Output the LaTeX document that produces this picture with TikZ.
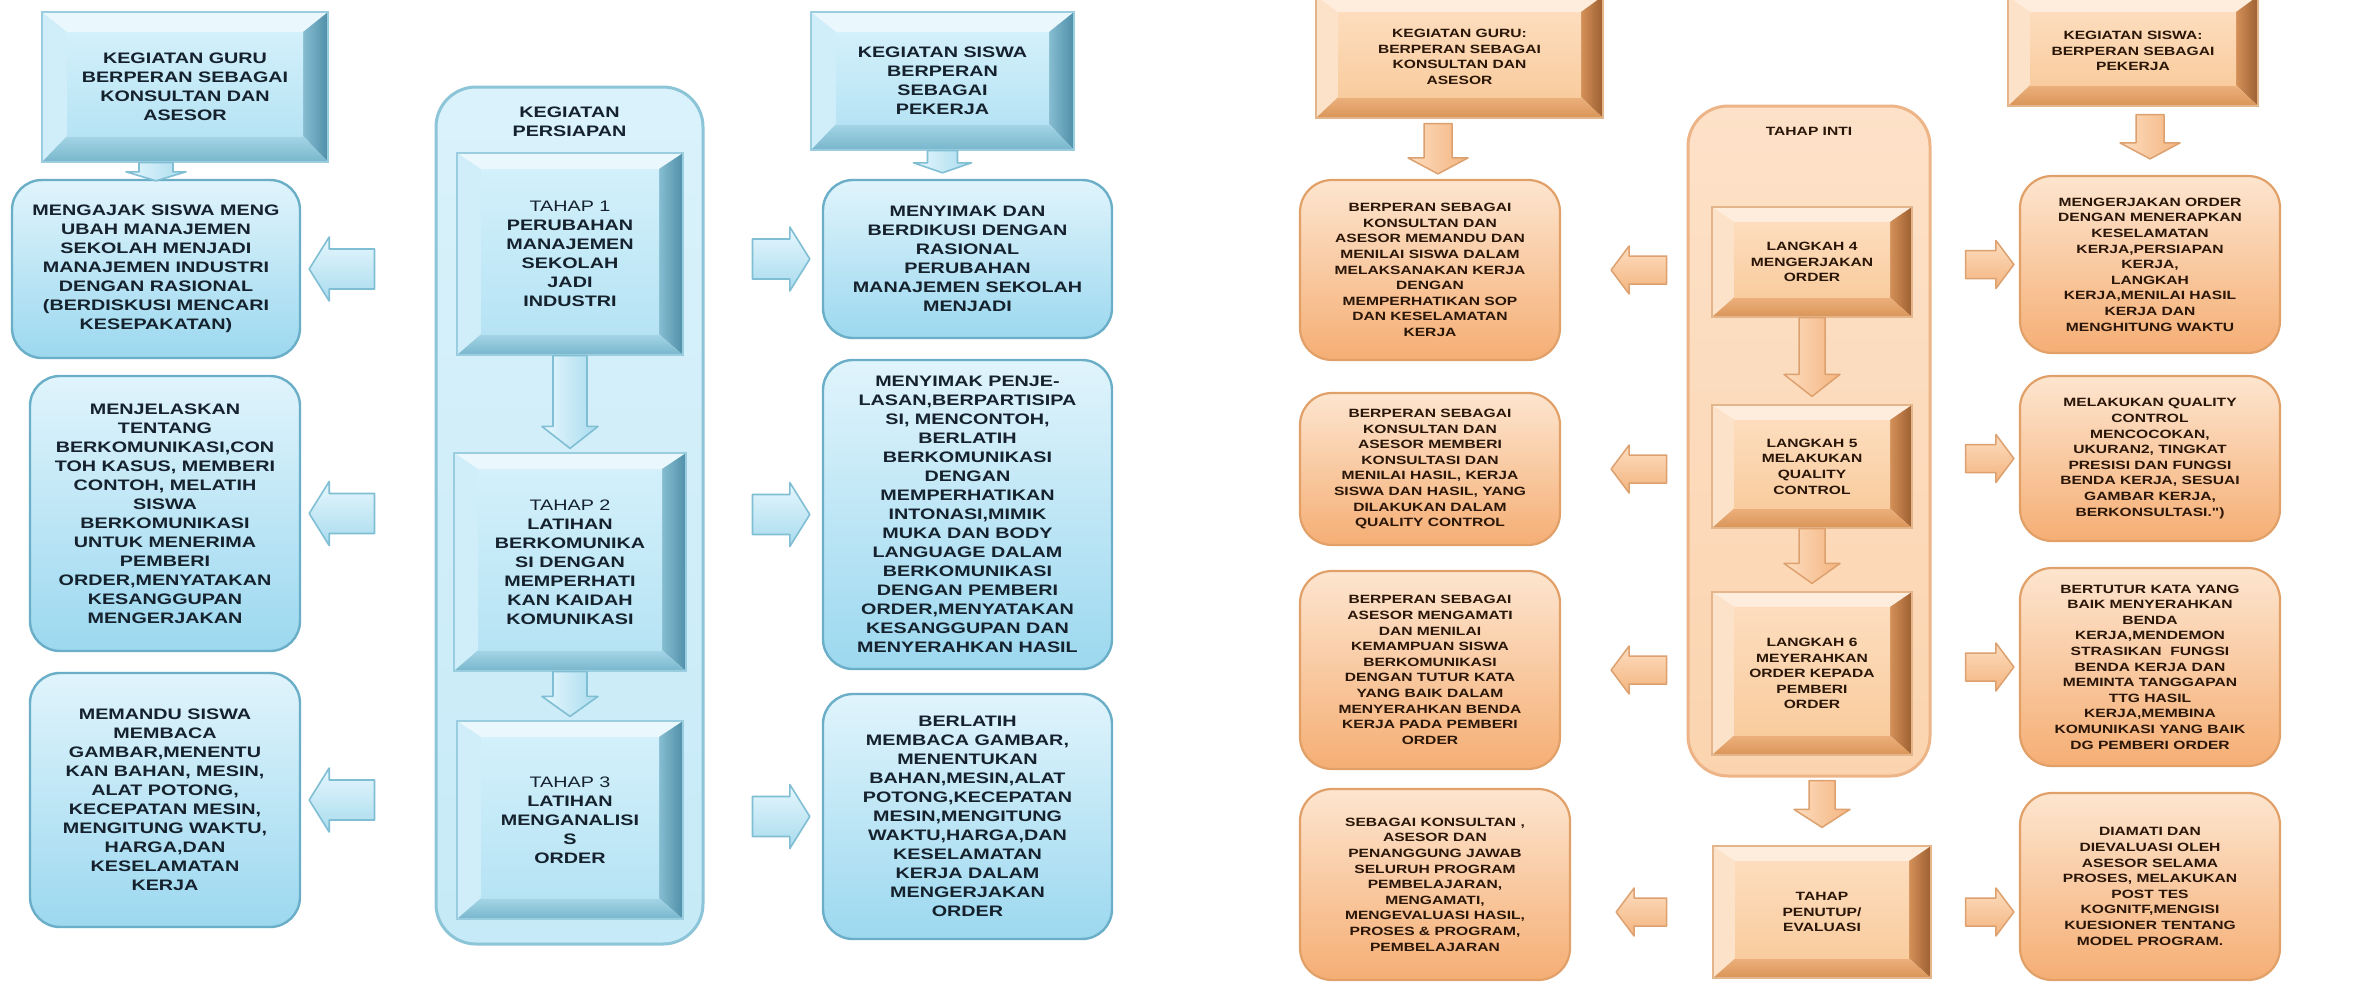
\documentclass[tikz,border=0pt]{standalone}
\usepackage{fontspec}
\newfontfamily\diagfont{Liberation Sans}[FakeStretch=1.3]
\usetikzlibrary{calc}

% blue palette (preparation stage)
\definecolor{Aline}{HTML}{9BCDE0}
\definecolor{Atop}{HTML}{EAF8FD}
\definecolor{Aleft}{HTML}{CFEEF9}
\definecolor{Arin}{HTML}{86BDD1}
\definecolor{Aright}{HTML}{4F8FA8}
\definecolor{Abin}{HTML}{A4D5E6}
\definecolor{Abot}{HTML}{78B6CC}
\definecolor{Aftop}{HTML}{D3F0FB}
\definecolor{Afbot}{HTML}{B6E3F4}
\definecolor{Arline}{HTML}{6AAEC8}
\definecolor{Artop}{HTML}{E0F4FC}
\definecolor{Arbot}{HTML}{9CD8EF}
\definecolor{Acline}{HTML}{8CC4D8}
\definecolor{Actop}{HTML}{DAF2FB}
\definecolor{Acbot}{HTML}{C6EAF7}
\definecolor{Aaline}{HTML}{80BED4}
\definecolor{Aatop}{HTML}{E6F7FD}
\definecolor{Aabot}{HTML}{A8DBEE}
\definecolor{Atext}{HTML}{15222E}
% orange palette (core stage)
\definecolor{Bline}{HTML}{E4B48A}
\definecolor{Btop}{HTML}{FEEDDD}
\definecolor{Bleft}{HTML}{FCE2C8}
\definecolor{Brin}{HTML}{D49059}
\definecolor{Bright}{HTML}{9C5F31}
\definecolor{Bbin}{HTML}{ECB07C}
\definecolor{Bbot}{HTML}{D99558}
\definecolor{Bftop}{HTML}{FDDDBE}
\definecolor{Bfbot}{HTML}{F9CC9E}
\definecolor{Brline}{HTML}{E2A069}
\definecolor{Brtop}{HTML}{FDE5CF}
\definecolor{Brbot}{HTML}{F5AE74}
\definecolor{Bcline}{HTML}{EDB587}
\definecolor{Bctop}{HTML}{FDE1C8}
\definecolor{Bcbot}{HTML}{FBD4AF}
\definecolor{Baline}{HTML}{DDA170}
\definecolor{Batop}{HTML}{FDDDBF}
\definecolor{Babot}{HTML}{F3B47F}
\definecolor{Btext}{HTML}{2A1608}

\tikzset{
  txtA/.style={font=\diagfont\bfseries\fontsize{15.2}{19}\selectfont, text=Atext, align=center},
  txtB/.style={font=\diagfont\bfseries\fontsize{12}{15.6}\selectfont, text=Btext, align=center},
  % raised panel: #1 palette, #2 side bevel, #3 top bevel
  bevel/.style n args={3}{rectangle, inner sep=0pt, draw=#1line, line width=1.2pt,
    path picture={
      \path (path picture bounding box.south west) coordinate (pSW)
            (path picture bounding box.north east) coordinate (pNE);
      \path (pSW -| pNE) coordinate (pSE) (pSW |- pNE) coordinate (pNW);
      \path ([xshift=#2pt,yshift={1.3*#3pt}]pSW) coordinate (qSW)
            ([xshift=-#2pt,yshift={1.3*#3pt}]pSE) coordinate (qSE)
            ([xshift=-#2pt,yshift=-#3pt]pNE) coordinate (qNE)
            ([xshift=#2pt,yshift=-#3pt]pNW) coordinate (qNW);
      \fill[#1top] (pNW) -- (pNE) -- (qNE) -- (qNW) -- cycle;
      \fill[#1left] (pNW) -- (qNW) -- (qSW) -- (pSW) -- cycle;
      \shade[left color=#1rin, right color=#1right] (pNE) -- (qNE) -- (qSE) -- (pSE) -- cycle;
      \shade[top color=#1bin, bottom color=#1bot] (pSW) -- (pSE) -- (qSE) -- (qSW) -- cycle;
      \shade[top color=#1ftop, bottom color=#1fbot] (qSW) rectangle (qNE);
    }},
  bevA/.style={bevel={A}{25}{20}, txtA},
  stageA/.style={bevel={A}{24}{16}, txtA},
  bevB/.style={bevel={B}{22}{16}, txtB},
  stageB/.style={bevel={B}{22}{15}, txtB},
  rbA/.style={rectangle, rounded corners=30pt, draw=Arline, line width=2.4pt,
    top color=Artop, bottom color=Arbot, inner sep=0pt, txtA},
  rbB/.style={rectangle, rounded corners=32pt, draw=Brline, line width=2.2pt,
    top color=Brtop, bottom color=Brbot, inner sep=0pt, txtB},
  contA/.style={rectangle, rounded corners=40pt, draw=Acline, line width=3pt,
    top color=Actop, bottom color=Acbot, inner sep=0pt},
  contB/.style={rectangle, rounded corners=40pt, draw=Bcline, line width=3pt,
    top color=Bctop, bottom color=Bcbot, inner sep=0pt},
  arA/.style={draw=Aaline, line width=1.6pt, top color=Aatop, bottom color=Aabot, line join=round},
  varA/.style={draw=Aaline, line width=1.6pt, left color=Aatop, right color=Aabot, line join=round},
  arB/.style={draw=Baline, line width=1.5pt, top color=Batop, bottom color=Babot, line join=round},
  varB/.style={draw=Baline, line width=1.5pt, left color=Batop, right color=Babot, line join=round},
}

% block arrow along x: style, tail, tip, shaft half height, head half height, head length
\newcommand\hblock[6]{%
  \draw[#1] let \p1=#2, \p2=#3, \n1={sign(\x2-\x1)} in
    (\x1,\y1+#4) -- (\x2-\n1*#6,\y1+#4) -- (\x2-\n1*#6,\y1+#5) -- (\x2,\y1)
    -- (\x2-\n1*#6,\y1-#5) -- (\x2-\n1*#6,\y1-#4) -- (\x1,\y1-#4) -- cycle;}
% block arrow along y: style, tail, tip, shaft half width, head half width, head length
\newcommand\vblock[6]{%
  \draw[#1] let \p1=#2, \p2=#3, \n1={sign(\y2-\y1)} in
    (\x1+#4,\y1) -- (\x1+#4,\y2-\n1*#6) -- (\x1+#5,\y2-\n1*#6) -- (\x1,\y2)
    -- (\x1-#5,\y2-\n1*#6) -- (\x1-#4,\y2-\n1*#6) -- (\x1-#4,\y1) -- cycle;}

\begin{document}
\begin{tikzpicture}[x=1pt,y=-1pt]
\useasboundingbox (0,0) rectangle (2356,983);
\fill[white] (0,0) rectangle (2356,983);

% ---------------- preparation stage (blue) ----------------
\node[contA, minimum width=267pt, minimum height=857pt] (cA) at (569.5,515.5) {};
\node[txtA] (cAt) at (569.5,122) {KEGIATAN\\PERSIAPAN};
\node[stageA, minimum width=226pt, minimum height=202pt] (tA1) at (570,254)
  {{\mdseries TAHAP 1}\\PERUBAHAN\\MANAJEMEN\\SEKOLAH\\JADI\\INDUSTRI};
\node[stageA, minimum width=232pt, minimum height=218pt] (tA2) at (570,562)
  {{\mdseries TAHAP 2}\\LATIHAN\\BERKOMUNIKA\\SI DENGAN\\MEMPERHATI\\KAN KAIDAH\\KOMUNIKASI};
\node[stageA, minimum width=226pt, minimum height=198pt] (tA3) at (570,820)
  {{\mdseries TAHAP 3}\\LATIHAN\\MENGANALISI\\S\\ORDER};

\node[bevA, minimum width=286pt, minimum height=150pt] (gA) at (185,87)
  {KEGIATAN GURU\\BERPERAN SEBAGAI\\KONSULTAN DAN\\ASESOR};
\node[rbA, minimum width=288pt, minimum height=178pt] (bA1) at (156,269)
  {MENGAJAK SISWA MENG\\UBAH MANAJEMEN\\SEKOLAH MENJADI\\MANAJEMEN INDUSTRI\\DENGAN RASIONAL\\(BERDISKUSI MENCARI\\KESEPAKATAN)};
\node[rbA, minimum width=270pt, minimum height=275pt] (bA2) at (165,513.5)
  {MENJELASKAN\\TENTANG\\BERKOMUNIKASI,CON\\TOH KASUS, MEMBERI\\CONTOH, MELATIH\\SISWA\\BERKOMUNIKASI\\UNTUK MENERIMA\\PEMBERI\\ORDER,MENYATAKAN\\KESANGGUPAN\\MENGERJAKAN};
\node[rbA, minimum width=270pt, minimum height=254pt] (bA3) at (165,800)
  {MEMANDU SISWA\\MEMBACA\\GAMBAR,MENENTU\\KAN BAHAN, MESIN,\\ALAT POTONG,\\KECEPATAN MESIN,\\MENGITUNG WAKTU,\\HARGA,DAN\\KESELAMATAN\\KERJA};

\node[bevA, minimum width=263pt, minimum height=138pt] (sA) at (942.5,81)
  {KEGIATAN SISWA\\BERPERAN\\SEBAGAI\\PEKERJA};
\node[rbA, minimum width=289pt, minimum height=158pt] (dA1) at (967.5,259)
  {MENYIMAK DAN\\BERDIKUSI DENGAN\\RASIONAL\\PERUBAHAN\\MANAJEMEN SEKOLAH\\MENJADI};
\node[rbA, minimum width=289pt, minimum height=309pt] (dA2) at (967.5,514.5)
  {MENYIMAK PENJE-\\LASAN,BERPARTISIPA\\SI, MENCONTOH,\\BERLATIH\\BERKOMUNIKASI\\DENGAN\\MEMPERHATIKAN\\INTONASI,MIMIK\\MUKA DAN BODY\\LANGUAGE DALAM\\BERKOMUNIKASI\\DENGAN PEMBERI\\ORDER,MENYATAKAN\\KESANGGUPAN DAN\\MENYERAHKAN HASIL};
\node[rbA, minimum width=289pt, minimum height=245pt] (dA3) at (967.5,816.5)
  {BERLATIH\\MEMBACA GAMBAR,\\MENENTUKAN\\BAHAN,MESIN,ALAT\\POTONG,KECEPATAN\\MESIN,MENGITUNG\\WAKTU,HARGA,DAN\\KESELAMATAN\\KERJA DALAM\\MENGERJAKAN\\ORDER};

% blue connectors
\vblock{varA}{(bA1.north|-gA.south)}{($(bA1.north)+(0,-2pt)$)}{17pt}{30pt}{9pt}
\vblock{varA}{(sA.south)}{($(sA.south|-dA1.north)+(0,6pt)$)}{15pt}{29pt}{10pt}
\vblock{varA}{(tA1.south)}{($(tA2.north)+(0,4pt)$)}{17pt}{28pt}{22pt}
\vblock{varA}{(tA2.south)}{($(tA3.north)+(0,4pt)$)}{17pt}{28pt}{20pt}
\foreach \b in {bA1,bA2,bA3}{
  \hblock{arA}{($(cA.west|-\b.east)+(-60pt,0)$)}{($(\b.east)+(8pt,0)$)}{20pt}{32pt}{20pt}}
\foreach \d in {dA1,dA2,dA3}{
  \hblock{arA}{($(cA.east|-\d.west)+(48pt,0)$)}{($(\d.west)+(-12pt,0)$)}{20pt}{32pt}{20pt}}

% ---------------- core stage (orange) ----------------
\node[contB, minimum width=242pt, minimum height=670pt] (cB) at (1809,441) {};
\node[txtB] (cBt) at (1809,131) {TAHAP INTI};
\node[stageB, minimum width=200pt, minimum height=110pt] (L4) at (1812,262)
  {LANGKAH 4\\MENGERJAKAN\\ORDER};
\node[stageB, minimum width=200pt, minimum height=123pt] (L5) at (1812,466.5)
  {LANGKAH 5\\MELAKUKAN\\QUALITY\\CONTROL};
\node[stageB, minimum width=200pt, minimum height=163pt] (L6) at (1812,673.5)
  {LANGKAH 6\\MEYERAHKAN\\ORDER KEPADA\\PEMBERI\\ORDER};
\node[stageB, minimum width=218pt, minimum height=132pt] (Pen) at (1822,912)
  {TAHAP\\PENUTUP/\\EVALUASI};

\node[bevB, minimum width=287pt, minimum height=122pt] (gB) at (1459.5,57)
  {KEGIATAN GURU:\\BERPERAN SEBAGAI\\KONSULTAN DAN\\ASESOR};
\node[rbB, minimum width=260pt, minimum height=180pt] (oL1) at (1430,270)
  {BERPERAN SEBAGAI\\KONSULTAN DAN\\ASESOR MEMANDU DAN\\MENILAI SISWA DALAM\\MELAKSANAKAN KERJA\\DENGAN\\MEMPERHATIKAN SOP\\DAN KESELAMATAN\\KERJA};
\node[rbB, minimum width=260pt, minimum height=152pt] (oL2) at (1430,469)
  {BERPERAN SEBAGAI\\KONSULTAN DAN\\ASESOR MEMBERI\\KONSULTASI DAN\\MENILAI HASIL, KERJA\\SISWA DAN HASIL, YANG\\DILAKUKAN DALAM\\QUALITY CONTROL};
\node[rbB, minimum width=260pt, minimum height=198pt] (oL3) at (1430,670)
  {BERPERAN SEBAGAI\\ASESOR MENGAMATI\\DAN MENILAI\\KEMAMPUAN SISWA\\BERKOMUNIKASI\\DENGAN TUTUR KATA\\YANG BAIK DALAM\\MENYERAHKAN BENDA\\KERJA PADA PEMBERI\\ORDER};
\node[rbB, minimum width=270pt, minimum height=191pt] (oL4) at (1435,884.5)
  {SEBAGAI KONSULTAN ,\\ASESOR DAN\\PENANGGUNG JAWAB\\SELURUH PROGRAM\\PEMBELAJARAN,\\MENGAMATI,\\MENGEVALUASI HASIL,\\PROSES \& PROGRAM,\\PEMBELAJARAN};

\node[bevB, minimum width=250pt, minimum height=110pt] (sB) at (2133,51)
  {KEGIATAN SISWA:\\BERPERAN SEBAGAI\\PEKERJA};
\node[rbB, minimum width=260pt, minimum height=177pt] (oR1) at (2150,264.5)
  {MENGERJAKAN ORDER\\DENGAN MENERAPKAN\\KESELAMATAN\\KERJA,PERSIAPAN\\KERJA,\\LANGKAH\\KERJA,MENILAI HASIL\\KERJA DAN\\MENGHITUNG WAKTU};
\node[rbB, minimum width=260pt, minimum height=165pt] (oR2) at (2150,458.5)
  {MELAKUKAN QUALITY\\CONTROL\\MENCOCOKAN,\\UKURAN2, TINGKAT\\PRESISI DAN FUNGSI\\BENDA KERJA, SESUAI\\GAMBAR KERJA,\\BERKONSULTASI.")};
\node[rbB, minimum width=260pt, minimum height=198pt] (oR3) at (2150,667)
  {BERTUTUR KATA YANG\\BAIK MENYERAHKAN\\BENDA\\KERJA,MENDEMON\\STRASIKAN~~FUNGSI\\BENDA KERJA DAN\\MEMINTA TANGGAPAN\\TTG HASIL\\KERJA,MEMBINA\\KOMUNIKASI YANG BAIK\\DG PEMBERI ORDER};
\node[rbB, minimum width=260pt, minimum height=187pt] (oR4) at (2150,886.5)
  {DIAMATI DAN\\DIEVALUASI OLEH\\ASESOR SELAMA\\PROSES, MELAKUKAN\\POST TES\\KOGNITF,MENGISI\\KUESIONER TENTANG\\MODEL PROGRAM.};

% orange connectors
\vblock{varB}{($(oL1.north|-gB.south)+(8pt,-5pt)$)}{($(oL1.north)+(0,5pt)$)}{14pt}{30pt}{16pt}
\vblock{varB}{($(oR1.north|-sB.south)+(0,-8pt)$)}{($(oR1.north)+(0,16pt)$)}{14pt}{30pt}{16pt}
\vblock{varB}{(L4.south)}{($(L5.north)+(0,8pt)$)}{13pt}{28pt}{22pt}
\vblock{varB}{(L5.south)}{($(L6.north)+(0,8pt)$)}{13pt}{28pt}{20pt}
\vblock{varB}{($(Pen.north|-cB.south)+(0,-3pt)$)}{($(Pen.north)+(0,18pt)$)}{13pt}{28pt}{18pt}
\foreach \b in {oL1,oL2,oL3}{
  \hblock{arB}{($(cB.west|-\b.east)+(-20pt,0)$)}{($(\b.east)+(50pt,0)$)}{14pt}{24pt}{18pt}}
\hblock{arB}{($(cB.west|-Pen.west)+(-20pt,0)$)}{($(oL4.east|-Pen.west)+(45pt,0)$)}{14pt}{24pt}{18pt}
\foreach \d in {oR1,oR2,oR3}{
  \hblock{arB}{($(cB.east|-\d.west)+(34pt,0)$)}{($(\d.west)+(-5pt,0)$)}{14pt}{24pt}{18pt}}
\hblock{arB}{($(cB.east|-Pen.east)+(34pt,0)$)}{($(oR4.west|-Pen.east)+(-5pt,0)$)}{14pt}{24pt}{18pt}
\end{tikzpicture}
\end{document}
